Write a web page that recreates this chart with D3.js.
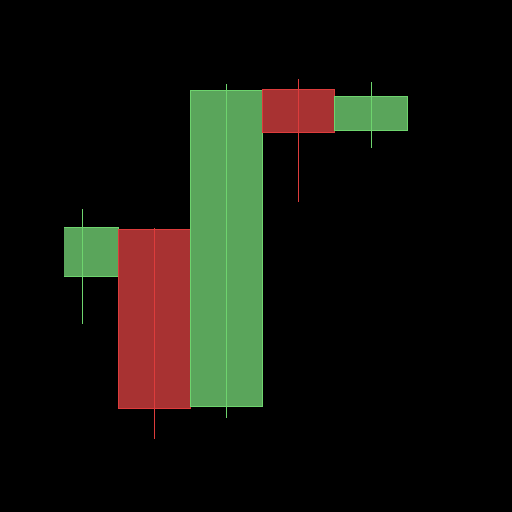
<!DOCTYPE html>
<html><head><meta charset="utf-8">
<script src="https://cdn.jsdelivr.net/npm/d3@7"></script>
<style>html,body{margin:0;padding:0;background:#000;}svg{display:block;}</style>
</head><body>
<script>
const idx   = [0, 1, 2, 3, 4];
const open  = [107.9, 112.8, 94.3, 127.3, 123.1];
const close = [113.0, 94.1, 127.2, 122.9, 126.6];
const high  = [114.9, 112.9, 127.9, 128.4, 128.1];
const low   = [102.9, 90.9, 93.1, 115.6, 121.2];

const W = 512, H = 512;
const m = {left: 64, right: 64, top: 64, bottom: 64};
const svg = d3.select("body").append("svg").attr("width", W).attr("height", H)
  .style("background", "#000");
svg.append("rect").attr("width", W).attr("height", H).attr("fill", "#000");

const x = d3.scaleLinear().domain([-0.25, 5.065]).range([m.left, W - m.right]);
const y = d3.scaleLinear().domain([90, 130]).range([H - m.bottom, m.top]);
const bw = x(1) - x(0);

svg.append("clipPath").attr("id", "clip").append("rect")
  .attr("x", m.left).attr("y", 0).attr("width", W - m.left - m.right).attr("height", H);

const g = svg.append("g").attr("clip-path", "url(#clip)");
const data = idx.map((d, i) => ({i: d, o: open[i], c: close[i], h: high[i], l: low[i]}));
const fillC = d => d.c >= d.o ? "#5aa55b" : "#a83232";
const strokeC = d => d.c >= d.o ? "#6ed46e" : "#dd3c3c";
const px = v => Math.floor(v) + 0.5;

const c = g.selectAll("g.c").data(data).join("g");
c.append("rect")
  .attr("x", d => px(x(d.i) - bw / 2))
  .attr("width", d => px(x(d.i) + bw / 2) - px(x(d.i) - bw / 2))
  .attr("y", d => px(y(Math.max(d.o, d.c))))
  .attr("height", d => px(y(Math.min(d.o, d.c))) - px(y(Math.max(d.o, d.c))))
  .attr("fill", fillC).attr("stroke", strokeC).attr("stroke-width", 1);
c.append("line")
  .attr("x1", d => px(x(d.i))).attr("x2", d => px(x(d.i)))
  .attr("y1", d => Math.round(y(d.h))).attr("y2", d => Math.round(y(d.l)))
  .attr("stroke", strokeC).attr("stroke-width", 1);
</script>
</body></html>
